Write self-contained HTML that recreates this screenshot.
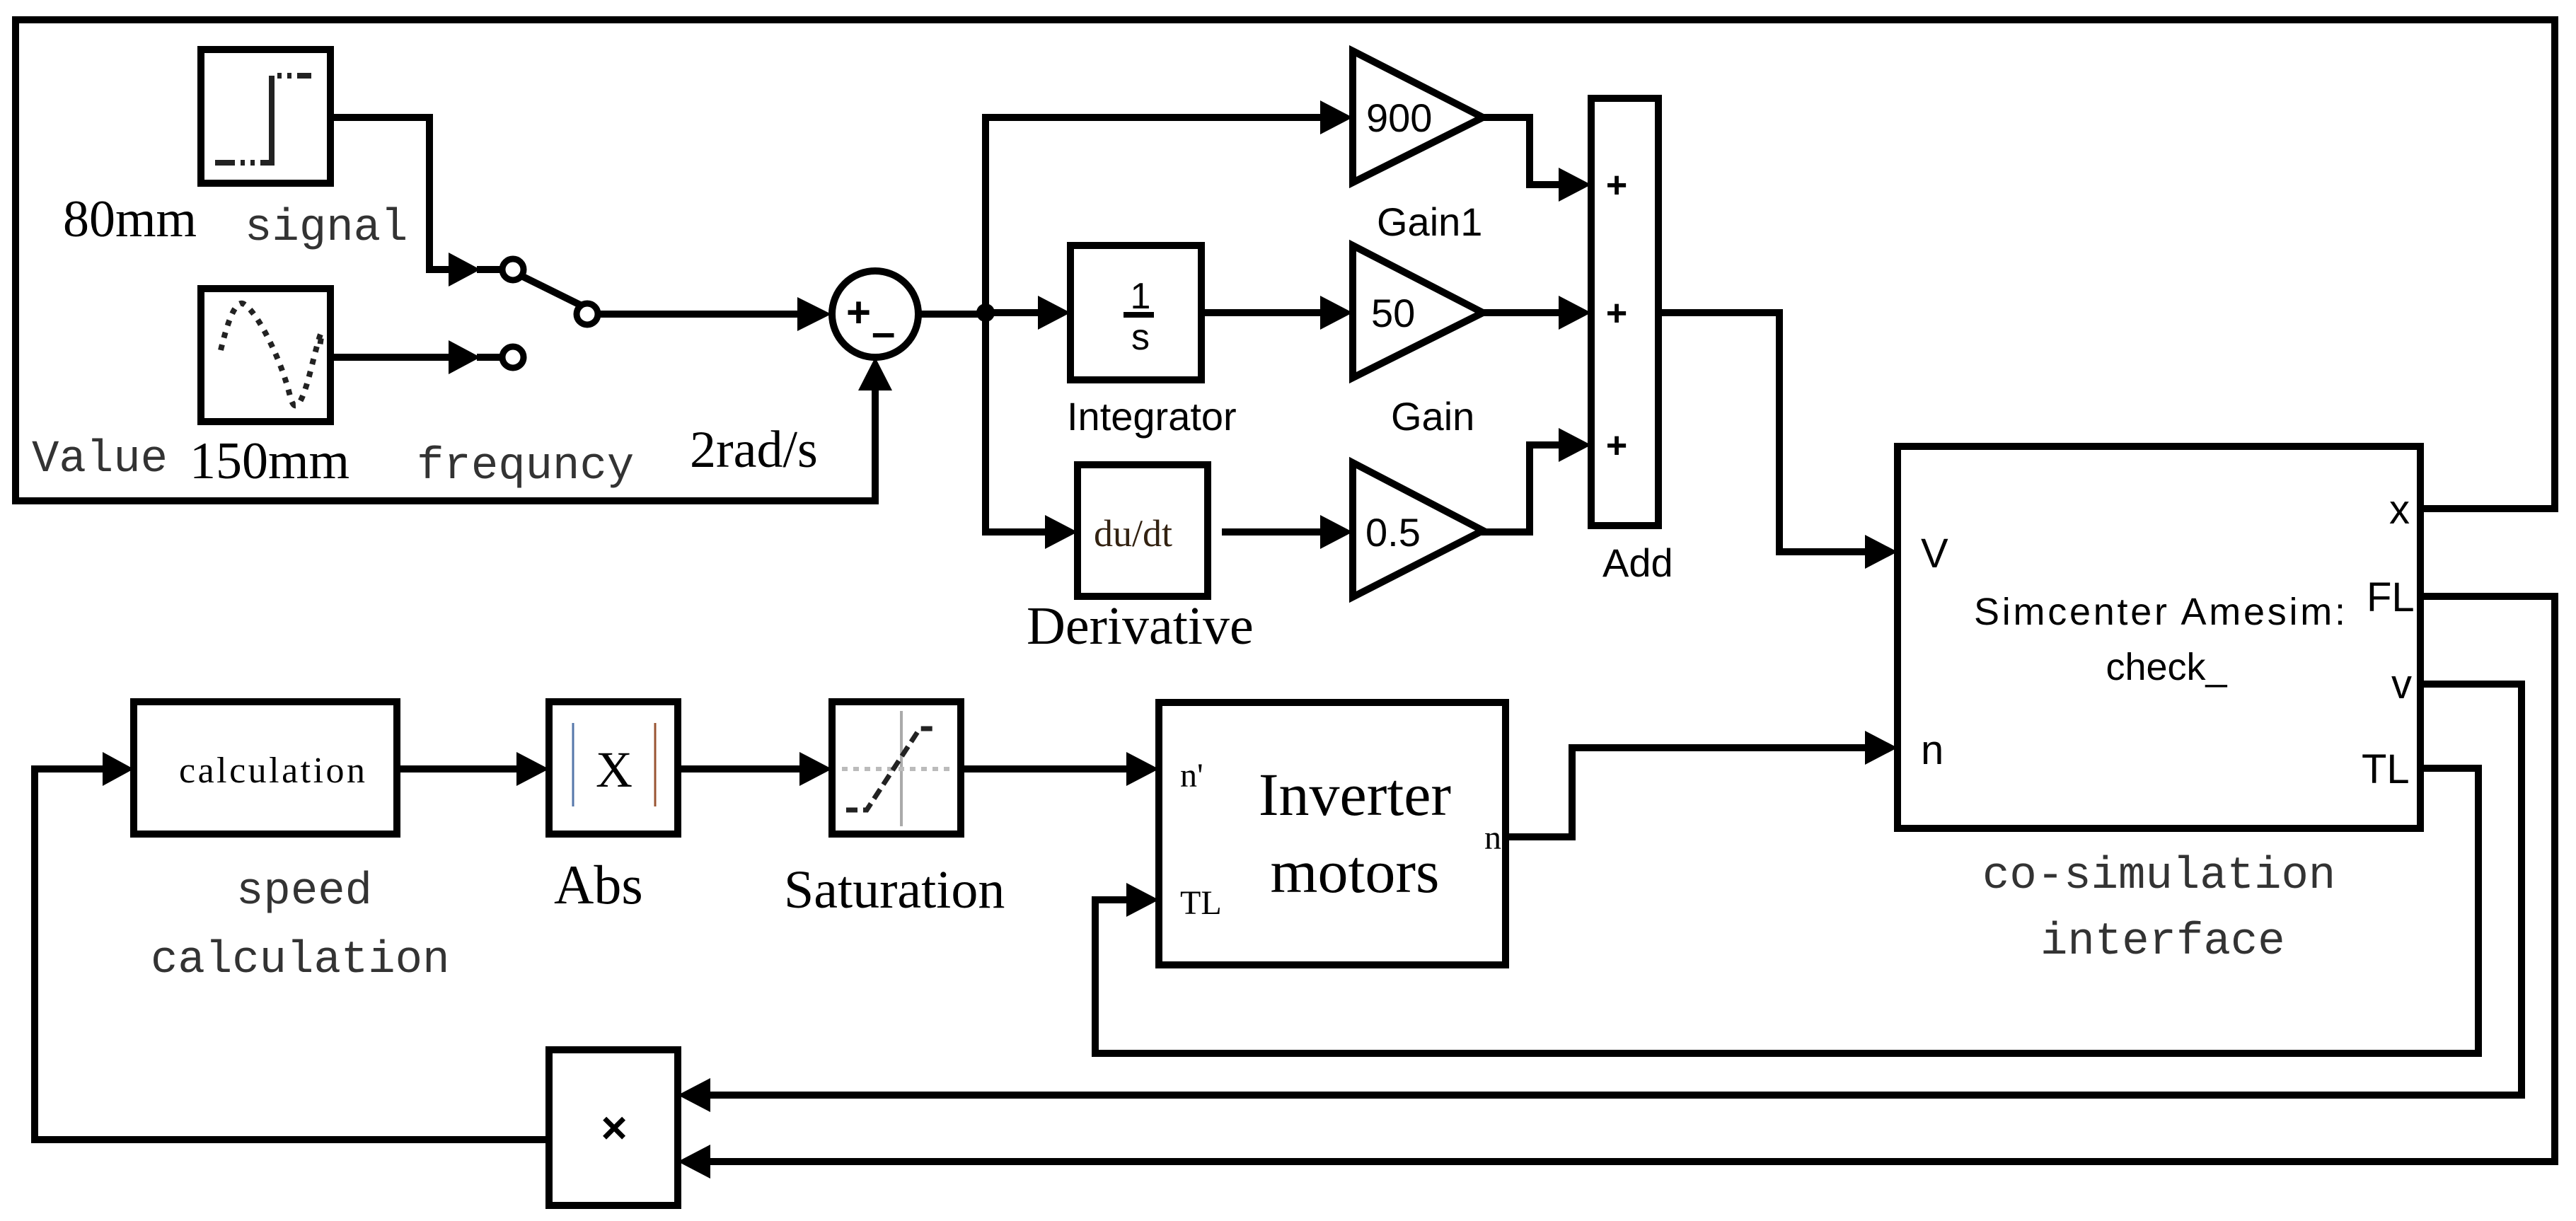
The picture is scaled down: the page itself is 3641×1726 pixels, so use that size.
<!DOCTYPE html>
<html><head><meta charset="utf-8"><style>
html,body{margin:0;padding:0;background:#fff;}
svg{display:block;}
.ser{font-family:"Liberation Serif",serif;}
.mono{font-family:"Liberation Mono",monospace;fill:#333;}
.sans{font-family:"Liberation Sans",sans-serif;}
</style></head><body>
<svg width="3641" height="1726" viewBox="0 0 3641 1726" xmlns="http://www.w3.org/2000/svg">
<g fill="none" stroke="#000" stroke-width="10" stroke-linejoin="miter" stroke-linecap="square">
<polyline points="3421,719 3611,719 3611,28 22,28 22,708 1237,708 1237,540"/>
<rect x="284" y="70" width="183" height="189"/>
<rect x="284" y="408" width="183" height="188"/>
<polyline points="467,166 607,166 607,381 640,381"/>
<line x1="467" y1="505" x2="640" y2="505"/>
<line x1="679" y1="381" x2="708" y2="381"/>
<line x1="679" y1="505" x2="708" y2="505"/>
<line x1="737" y1="390" x2="818" y2="430"/>
<line x1="848" y1="444" x2="1125" y2="444"/>
<circle cx="1237" cy="444" r="61"/>
<line x1="1298" y1="444" x2="1393" y2="444"/>
<polyline points="1874,166 1393,166 1393,752 1480,752"/>
<line x1="1393" y1="442" x2="1470" y2="442"/>
<rect x="1513" y="347" width="185" height="190"/>
<line x1="1698" y1="442" x2="1870" y2="442"/>
<rect x="1523" y="657" width="184" height="186"/>
<line x1="1732" y1="752" x2="1870" y2="752"/>
<polygon points="1912,72 2096,166 1912,258"/>
<polygon points="1912,347 2096,442 1912,534"/>
<polygon points="1912,654 2096,750 1912,844"/>
<polyline points="2096,166 2162,166 2162,261 2205,261"/>
<line x1="2096" y1="442" x2="2205" y2="442"/>
<polyline points="2096,752 2162,752 2162,629 2205,629"/>
<rect x="2249" y="139" width="95" height="604"/>
<polyline points="2344,442 2515,442 2515,780 2640,780"/>
<rect x="2682" y="631" width="739" height="540"/>
<polyline points="3421,843 3611,843 3611,1642 1000,1642"/>
<polyline points="3421,967 3564,967 3564,1548 1000,1548"/>
<polyline points="3421,1086 3503,1086 3503,1489 1548,1489 1548,1272 1595,1272"/>
<polyline points="2128,1183 2222,1183 2222,1057 2640,1057"/>
<rect x="189" y="992" width="372" height="187"/>
<rect x="776" y="992" width="182" height="187"/>
<rect x="1176" y="992" width="182" height="187"/>
<rect x="1638" y="993" width="490" height="371"/>
<rect x="776" y="1484" width="182" height="220"/>
<polyline points="776,1611 49,1611 49,1087 150,1087"/>
<line x1="561" y1="1087" x2="735" y2="1087"/>
<line x1="958" y1="1087" x2="1135" y2="1087"/>
<line x1="1358" y1="1087" x2="1595" y2="1087"/>
</g>
<g fill="#fff" stroke="#000" stroke-width="9">
<circle cx="725" cy="381" r="15"/><circle cx="725" cy="505" r="15"/><circle cx="830" cy="444" r="15"/>
</g>
<circle cx="1393" cy="442" r="13" fill="#000"/>
<g fill="#000">
<polygon points="679,381 634,357 634,405"/>
<polygon points="679,505 634,481 634,529"/>
<polygon points="1175,444 1127,420 1127,468"/>
<polygon points="1237,505 1213,552 1261,552"/>
<polygon points="1912,166 1866,142 1866,190"/>
<polygon points="1513,442 1467,418 1467,466"/>
<polygon points="1912,442 1866,418 1866,466"/>
<polygon points="1523,752 1477,728 1477,776"/>
<polygon points="1912,752 1866,728 1866,776"/>
<polygon points="2249,261 2203,237 2203,285"/>
<polygon points="2249,442 2203,418 2203,466"/>
<polygon points="2249,629 2203,605 2203,653"/>
<polygon points="2682,780 2636,756 2636,804"/>
<polygon points="2682,1057 2636,1033 2636,1081"/>
<polygon points="189,1087 145,1063 145,1111"/>
<polygon points="776,1087 730,1063 730,1111"/>
<polygon points="1176,1087 1130,1063 1130,1111"/>
<polygon points="1638,1087 1592,1063 1592,1111"/>
<polygon points="1638,1272 1592,1248 1592,1296"/>
<polygon points="958,1548 1004,1524 1004,1572"/>
<polygon points="958,1642 1004,1618 1004,1666"/>
</g>
<g fill="none" stroke="#222" stroke-width="8">
<polyline points="304,230 384,230 384,107" stroke-dasharray="28,8,6,8,6,8,200"/>
<line x1="392" y1="107" x2="446" y2="107" stroke-dasharray="6,8,6,8,20"/>
<path d="M312,495 Q330,420 345,430 T380,480 T410,560 T440,520 T452,490" stroke-dasharray="8,10"/>
</g>
<g fill="none">
<line x1="1274" y1="1005" x2="1274" y2="1168" stroke="#aaa" stroke-width="4"/>
<line x1="1190" y1="1087" x2="1350" y2="1087" stroke="#bbb" stroke-width="6" stroke-dasharray="8,8"/>
<polyline points="1196,1145 1225,1145 1300,1030 1320,1030" stroke="#222" stroke-width="7" stroke-dasharray="16,8"/>
<line x1="810" y1="1022" x2="810" y2="1140" stroke="#5577aa" stroke-width="3"/>
<line x1="926" y1="1022" x2="926" y2="1140" stroke="#995533" stroke-width="3"/>
<line x1="1588" y1="445" x2="1631" y2="445" stroke="#000" stroke-width="8"/>
</g>
<g class="ser" fill="#000">
<text x="89" y="334" font-size="74">80mm</text>
<text x="268" y="676" font-size="74">150mm</text>
<text x="975" y="660" font-size="74">2rad/s</text>
<text x="1451" y="910" font-size="76">Derivative</text>
<text x="1546" y="772" font-size="54" fill="#332211">du/dt</text>
<text x="253" y="1106" font-size="52" textLength="263">calculation</text>
<text x="868" y="1112" font-size="72" text-anchor="middle">X</text>
<text x="783" y="1277" font-size="78">Abs</text>
<text x="1108" y="1283" font-size="76">Saturation</text>
<text x="1915" y="1152" font-size="86" text-anchor="middle">Inverter</text>
<text x="1915" y="1261" font-size="86" text-anchor="middle">motors</text>
<text x="1668" y="1112" font-size="48">n'</text>
<text x="1668" y="1292" font-size="48">TL</text>
<text x="2098" y="1200" font-size="48">n</text>
</g>
<g class="mono" font-size="64">
<text x="346" y="339">signal</text>
<text x="45" y="666">Value</text>
<text x="589" y="676">frequncy</text>
<text x="334" y="1277">speed</text>
<text x="213" y="1374">calculation</text>
<text x="2802" y="1255">co-simulation</text>
<text x="2884" y="1348">interface</text>
</g>
<g class="sans" fill="#000">
<text x="1931" y="186" font-size="56">900</text>
<text x="1938" y="462" font-size="56">50</text>
<text x="1930" y="772" font-size="56">0.5</text>
<text x="1612" y="436" font-size="52" text-anchor="middle">1</text>
<text x="1612" y="494" font-size="52" text-anchor="middle">s</text>
<text x="1946" y="333" font-size="56">Gain1</text>
<text x="1508" y="608" font-size="56">Integrator</text>
<text x="1966" y="608" font-size="56">Gain</text>
<text x="2265" y="815" font-size="56">Add</text>
<text x="1196" y="462" font-size="60" font-weight="bold">+</text>
<text x="1232" y="490" font-size="60" font-weight="bold">–</text>
<text x="2285" y="279" font-size="52" font-weight="bold" text-anchor="middle">+</text>
<text x="2285" y="460" font-size="52" font-weight="bold" text-anchor="middle">+</text>
<text x="2285" y="647" font-size="52" font-weight="bold" text-anchor="middle">+</text>
<text x="868" y="1616" font-size="64" font-weight="bold" text-anchor="middle">×</text>
<text x="2715" y="802" font-size="58">V</text>
<text x="2715" y="1080" font-size="58">n</text>
<text x="3377" y="740" font-size="58">x</text>
<text x="3345" y="864" font-size="58">FL</text>
<text x="3380" y="987" font-size="58">v</text>
<text x="3338" y="1107" font-size="58">TL</text>
<text x="2790" y="883" font-size="54" textLength="525">Simcenter Amesim:</text>
<text x="3062" y="961" font-size="54" text-anchor="middle">check_</text>
</g>
</svg>
</body></html>
